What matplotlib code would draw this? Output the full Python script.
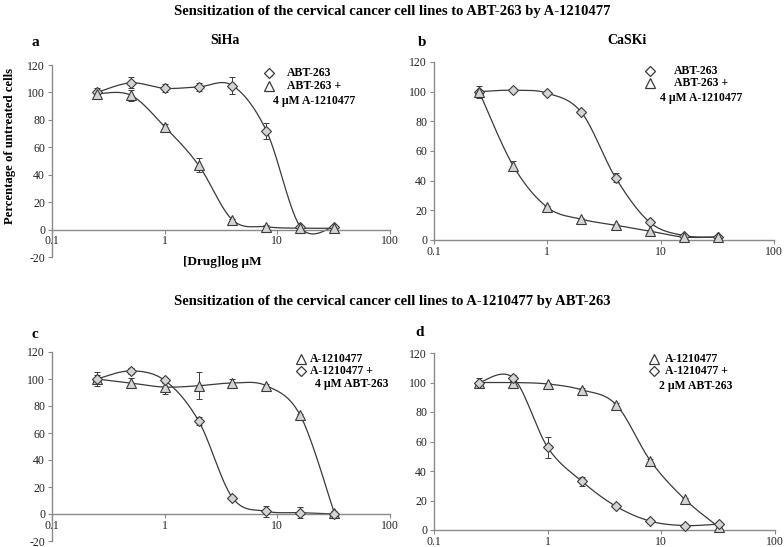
import matplotlib
matplotlib.use("Agg")
import matplotlib.pyplot as plt
import numpy as np

# concentrations (uM), same for every panel
conc = [0.25, 0.5, 1, 2, 4, 8, 16, 32]

# a - SiHa
siha_abt = [100, 107, 103, 104, 105, 72, 2, 2]
siha_abt_err = [3, 4, 3, 3, 6, 6, 1, 1]
siha_combo = [99, 98, 75, 47, 7, 2, 1, 1]
siha_combo_err = [2, 4, 2, 5, 1, 1, 1, 1]

# b - CaSKi
caski_abt = [100, 101, 99, 86, 42, 12, 3, 2]
caski_abt_err = [1, 1, 1, 1, 3, 1, 1, 1]
caski_combo = [100, 50, 22, 14, 10, 6, 2, 2]
caski_combo_err = [4, 3, 1, 1, 1, 1, 1, 1]

# c - SiHa, A-1210477
siha_a12 = [100, 97, 94, 95, 97, 95, 73, 1]
siha_a12_err = [5, 4, 5, 10, 3, 1, 1, 1]
siha_a12_combo = [100, 106, 99, 69, 12, 2, 1, 0]
siha_a12_combo_err = [3, 2, 2, 3, 1, 4, 4, 1]

# d - CaSKi, A-1210477
caski_a12 = [100, 100, 99, 95, 85, 47, 21, 2]
caski_a12_err = [1, 1, 1, 1, 1, 1, 1, 1]
caski_a12_combo = [100, 103, 56, 33, 16, 6, 3, 4]
caski_a12_combo_err = [3, 2, 7, 3, 1, 1, 1, 1]

title_top = "Sensitization of the cervical cancer cell lines to ABT-263 by A-1210477"
title_bottom = "Sensitization of the cervical cancer cell lines to A-1210477 by ABT-263"

plt.rcParams['font.family'] = ['Liberation Serif', 'DejaVu Serif']
plt.rcParams['axes.unicode_minus'] = False

LINE = '#3a3a3a'
FILL = '#d4d4d4'
AXC = '#8a8a8a'
W, H = 784, 547
MS = {'D': 5, '^': 6.5}


def smooth(x, y, n=30):
    # excel-like smoothed line (catmull-rom in log-x space)
    lx = np.log10(np.asarray(x, float))
    y = np.asarray(y, float)
    px = np.concatenate([[lx[0]], lx, [lx[-1]]])
    py = np.concatenate([[y[0]], y, [y[-1]]])
    xs, ys = [], []
    t = np.linspace(0, 1, n)
    for i in range(1, len(px) - 2):
        p0, p1, p2, p3 = px[i - 1], px[i], px[i + 1], px[i + 2]
        q0, q1, q2, q3 = py[i - 1], py[i], py[i + 1], py[i + 2]
        c1x, c1y = p1 + (p2 - p0) / 6, q1 + (q2 - q0) / 6
        c2x, c2y = p2 - (p3 - p1) / 6, q2 - (q3 - q1) / 6
        bx = (1 - t)**3 * p1 + 3 * (1 - t)**2 * t * c1x + 3 * (1 - t) * t**2 * c2x + t**3 * p2
        by = (1 - t)**3 * q1 + 3 * (1 - t)**2 * t * c1y + 3 * (1 - t) * t**2 * c2y + t**3 * q2
        xs.append(bx)
        ys.append(by)
    return 10**np.concatenate(xs), np.concatenate(ys)


def series(ax, y, err, marker):
    sx, sy = smooth(conc, y)
    ax.plot(sx, sy, color=LINE, lw=0.9, zorder=2)
    ax.errorbar(conc, y, yerr=err, fmt='none', ecolor=LINE, elinewidth=0.7,
                capsize=2.2, capthick=0.7, zorder=3)
    ax.plot(conc, y, ls='none', marker=marker, ms=MS[marker], mfc=FILL, mec=LINE,
            mew=0.8, zorder=4, clip_on=False)


def setup(ax, ymin):
    ax.set_xscale('log')
    ax.set_xlim(0.1, 100)
    ax.set_ylim(ymin, 120)
    ax.set_yticks(range(ymin, 121, 20))
    ax.set_xticks([0.1, 1, 10, 100])
    ax.set_xticklabels(['0.1', '1', '10', '100'])
    ax.minorticks_off()
    ax.spines['top'].set_visible(False)
    ax.spines['right'].set_visible(False)
    ax.spines['bottom'].set_position(('data', 0))
    for s in ('left', 'bottom'):
        ax.spines[s].set_color(AXC)
        ax.spines[s].set_linewidth(1.0)
    ax.tick_params(axis='both', colors=AXC, labelcolor='#222222', labelsize=8.5,
                   length=3, width=0.8, pad=2)
    ax.tick_params(axis='x', pad=1)
    ax.set_facecolor('none')


def legend(ax, first_marker, first_label, second_marker, lines, pos):
    mx, tx, y1, y2, lx, y3 = pos
    ax.plot([mx], [y1], transform=ax.transAxes, marker=first_marker,
            ms=MS[first_marker] + 0.5, mfc='white', mec=LINE, mew=0.9,
            ls='none', clip_on=False)
    ax.plot([mx], [y2], transform=ax.transAxes, marker=second_marker,
            ms=MS[second_marker] + 0.5, mfc='white', mec=LINE, mew=0.9,
            ls='none', clip_on=False)
    kw = dict(transform=ax.transAxes, fontsize=8.5, fontweight='bold', va='center', ha='left')
    ax.text(tx, y1, first_label, **kw)
    ax.text(tx, y2, lines[0], **kw)
    ax.text(lx, y3, lines[1], **kw)


def axes_px(x0, x1, ytop, ybot):
    return [x0 / W, 1 - ybot / H, (x1 - x0) / W, (ybot - ytop) / H]


fig = plt.figure(figsize=(7.84, 5.47), dpi=100)

axa = fig.add_axes(axes_px(52, 390, 65, 257))
axb = fig.add_axes(axes_px(434, 774, 62, 240))
axc = fig.add_axes(axes_px(52, 390, 352, 541))
axd = fig.add_axes(axes_px(434, 775, 353, 530))

setup(axa, -20)
setup(axb, 0)
setup(axc, -20)
setup(axd, 0)

series(axa, siha_abt, siha_abt_err, 'D')
series(axa, siha_combo, siha_combo_err, '^')
series(axb, caski_abt, caski_abt_err, 'D')
series(axb, caski_combo, caski_combo_err, '^')
series(axc, siha_a12, siha_a12_err, '^')
series(axc, siha_a12_combo, siha_a12_combo_err, 'D')
series(axd, caski_a12, caski_a12_err, '^')
series(axd, caski_a12_combo, caski_a12_combo_err, 'D')

legend(axa, 'D', 'ABT-263', '^', ['ABT-263 +', '4 \u00b5M A-1210477'],
       (0.642, 0.695, 0.958, 0.891, 0.654, 0.8125))
legend(axb, 'D', 'ABT-263', '^', ['ABT-263 +', '4 \u00b5M A-1210477'],
       (0.635, 0.706, 0.949, 0.882, 0.665, 0.798))
legend(axc, '^', 'A-1210477', 'D', ['A-1210477 +', '4 \u00b5M ABT-263'],
       (0.737, 0.763, 0.964, 0.902, 0.778, 0.829))
legend(axd, '^', 'A-1210477', 'D', ['A-1210477 +', '2 \u00b5M ABT-263'],
       (0.645, 0.677, 0.966, 0.899, 0.660, 0.815))

def ftext(x, y, s, size, **kw):
    fig.text(x / W, 1 - y / H, s, fontsize=size, fontweight='bold',
             ha=kw.pop('ha', 'center'), va='center', **kw)

ftext(392, 11, title_top, 10.5)
ftext(392, 302, title_bottom, 10.5)
ftext(35, 43, 'a', 11)
ftext(422, 43, 'b', 11)
ftext(35, 334, 'c', 11)
ftext(420, 333, 'd', 11)
ftext(225, 40, 'SiHa', 10)
ftext(627, 40, 'CaSKi', 10)
ftext(10, 146, 'Percentage of untreated cells', 9.2, rotation=90)
ftext(222, 262, '[Drug]log \u00b5M', 9.5)

fig.savefig('out.png', dpi=100)
